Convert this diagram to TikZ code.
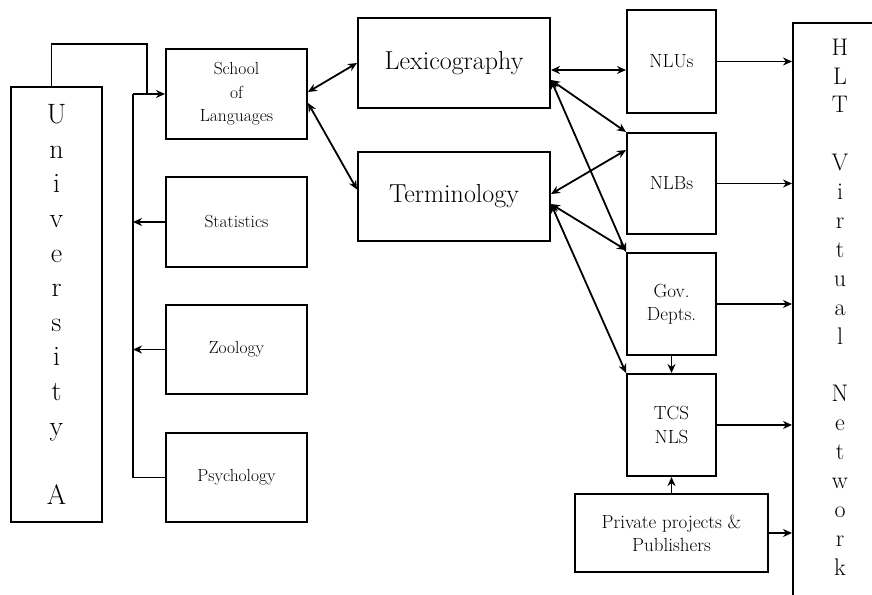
\documentclass[tikz,border=0pt]{standalone}
\usetikzlibrary{arrows.meta}
\begin{document}
\begin{tikzpicture}[x=1pt,y=-1pt,
  box/.style={draw, line width=2pt, anchor=north west, inner sep=0pt, align=center},
  con/.style={line width=1.8pt},
  tip/.style={-{Stealth[length=9pt,width=8pt]}},
  both/.style={{Stealth[length=9pt,width=8pt]}-{Stealth[length=9pt,width=8pt]}},
  small/.style={font=\fontsize{17.5}{23.5}\selectfont},
  mid/.style={font=\fontsize{19}{23}\selectfont},
  big/.style={font=\fontsize{26}{30}\selectfont}
]
\useasboundingbox (0,0) rectangle (872,594);
\clip (0,0) rectangle (872,594);

% left column
\node[box, minimum width=91pt, minimum height=435pt, font=\fontsize{28}{34.6}\selectfont] (univ) at (10,86)
  {U\\n\\i\\v\\e\\r\\s\\i\\t\\y\\[34.6pt]A};
\node[box, small, minimum width=141pt, minimum height=90pt] (school) at (165,48) {School\\of\\Languages};
\node[box, small, minimum width=141pt, minimum height=90pt] (stat) at (165,176) {Statistics};
\node[box, small, minimum width=141pt, minimum height=89pt] (zoo) at (165,304) {Zoology};
\node[box, small, minimum width=141pt, minimum height=89pt] (psych) at (165,432) {Psychology};

% middle
\node[box, big, minimum width=192pt, minimum height=90pt] (lex) at (357,17) {Lexicography};
\node[box, big, minimum width=192pt, minimum height=89pt] (term) at (357,151) {Terminology};

% right column
\node[box, mid, minimum width=89pt, minimum height=103pt] (nlus) at (626,9) {NLUs};
\node[box, mid, minimum width=89pt, minimum height=101pt] (nlbs) at (626,132) {NLBs};
\node[box, mid, minimum width=89pt, minimum height=102pt] (gov) at (626,252) {Gov.\\Depts.};
\node[box, mid, minimum width=89pt, minimum height=102pt, font=\fontsize{19}{24}\selectfont] (tcs) at (626,373) {TCS\\NLS};
\node[box, mid, minimum width=193pt, minimum height=78pt] (priv) at (574,493) {Private projects \&\\Publishers};

% HLT virtual network (extends beyond the page)
\node[box, minimum width=200pt, minimum height=700pt] (hlt) at (792,22) {};
\node[font=\fontsize{24}{28.9}\selectfont, align=center, inner sep=0pt] (hlttext) at (840,307)
  {H\\L\\T\\[28.9pt]V\\i\\r\\t\\u\\a\\l\\[28.9pt]N\\e\\t\\w\\o\\r\\k};

% loop and bus on the left
\coordinate (loopA) at (147,44);
\coordinate (busTop) at (133,91);
\draw[con] ([xshift=-5pt]univ.north) |- (loopA) -- (loopA |- school.west);
\draw[con,tip] (busTop |- school.west) -- (school.west);
\draw[con] (busTop |- school.west) -- (busTop |- psych.west) -- (psych.west);
\draw[con,tip] (stat.west) -- (stat.west -| busTop);
\draw[con,tip] (zoo.west) -- (zoo.west -| busTop);

% school to lexicography / terminology
\draw[con,both] ([yshift=2pt]school.east) -- (lex.west);
\draw[con,both] ([yshift=-9pt]school.east) -- ([yshift=7pt]term.west);

% lexicography links
\draw[con,both] ([yshift=-7pt]lex.east) -- ([yshift=-7pt]lex.east -| nlus.west);
\draw[con,both] ([yshift=-17pt]lex.east) -- (nlbs.north west);
\draw[con,both] ([yshift=-17pt]lex.east) -- (gov.north west);

% terminology links
\draw[con,both] ([yshift=2.5pt]term.east) -- ([yshift=-18pt]nlbs.north west);
\draw[con,both] ([yshift=-7.5pt]term.east) -- ([yshift=2pt]gov.north west);
\draw[con,both] ([yshift=-7.5pt]term.east) -- (tcs.north west);

% vertical links
\draw[con,tip] (gov.south) -- (tcs.north);
\draw[con,tip] (priv.north) -- (tcs.south);

% to HLT network
\draw[con,tip] (nlus.east) -- (nlus.east -| hlt.west);
\draw[con,tip] (nlbs.east) -- (nlbs.east -| hlt.west);
\draw[con,tip] (gov.east) -- (gov.east -| hlt.west);
\draw[con,tip] (tcs.east) -- (tcs.east -| hlt.west);
\draw[con,tip] (priv.east) -- (priv.east -| hlt.west);
\end{tikzpicture}
\end{document}
